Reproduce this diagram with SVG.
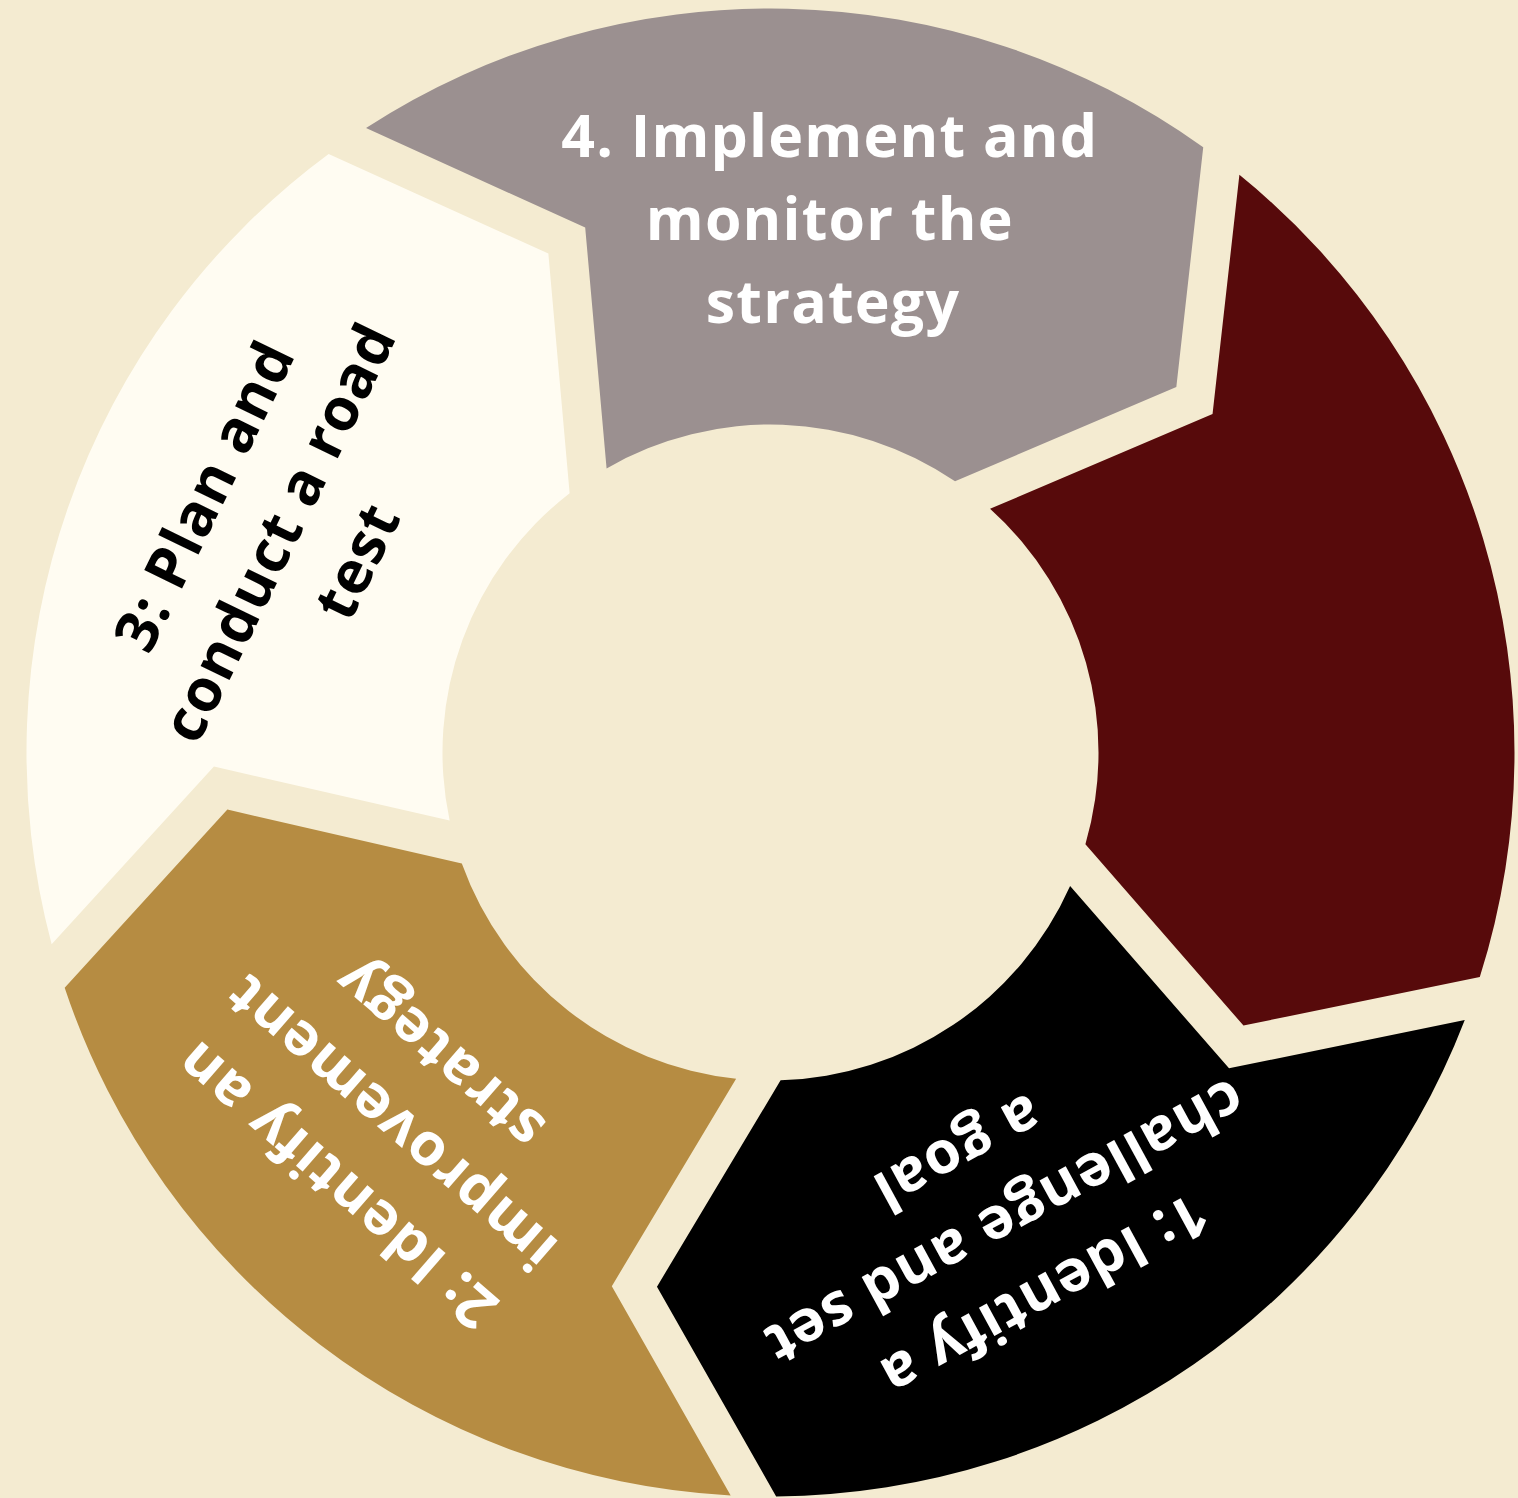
<svg xmlns="http://www.w3.org/2000/svg" xmlns:xlink="http://www.w3.org/1999/xlink" width="1518" height="1498" viewBox="0 0 1518 1498">
  <style>
    .bg { fill: #F4EBD1; }
    .s-grey { fill: #9B9090; }
    .s-red { fill: #570A0B; }
    .s-black { fill: #000000; }
    .s-gold { fill: #B68C42; }
    .s-white { fill: #FFFCF2; }
    .label { font-family: "Open Sans", "Liberation Sans", sans-serif; font-weight: 700; font-size: 59px; letter-spacing: 1.2px; text-anchor: middle; }
    .light { fill: #FFFFFF; }
    .dark { fill: #000000; }
  </style>
  <defs>
    <!-- one ring segment, pointing up, centred on the origin; notch on the left side, arrow tip on the right -->
    <path id="segment" d="M -418.54 -615.11 A 744 744 0 0 1 418.89 -614.87 L 397.44 -374.55 L 178.34 -275.28 A 328 328 0 0 0 -170.32 -280.32 L -197.17 -520.67 Z"/>
  </defs>

  <rect class="bg" x="0" y="0" width="1518" height="1498"/>

  <g id="step-4">
    <use xlink:href="#segment" href="#segment" class="s-grey" transform="translate(770.5 752.5) rotate(1.3)"/>
    <text class="label light">
      <tspan x="838" y="157">4. Implement and</tspan>
      <tspan x="838" y="240">monitor the</tspan>
      <tspan x="833" y="323">strategy</tspan>
    </text>
  </g>

  <g id="step-5">
    <use xlink:href="#segment" href="#segment" class="s-red" transform="translate(770.5 752.5) rotate(73.3)"/>
  </g>

  <g id="step-1">
    <use xlink:href="#segment" href="#segment" class="s-black" transform="translate(770.5 752.5) rotate(145.3)"/>
    <text class="label light" transform="translate(997.5 1226) rotate(151.5)">
      <tspan x="0" y="-63">1: Identify a</tspan>
      <tspan x="0" y="20">challenge and set</tspan>
      <tspan x="0" y="103">a goal</tspan>
    </text>
  </g>

  <g id="step-2">
    <use xlink:href="#segment" href="#segment" class="s-gold" transform="translate(770.5 752.5) rotate(217.3)"/>
    <text class="label light" transform="translate(385 1117) rotate(221)">
      <tspan x="0" y="-63">2: Identify an</tspan>
      <tspan x="0" y="20">improvement</tspan>
      <tspan x="0" y="103">strategy</tspan>
    </text>
  </g>

  <g id="step-3">
    <use xlink:href="#segment" href="#segment" class="s-white" transform="translate(770.5 752.5) rotate(289.3)"/>
    <text class="label dark" transform="translate(283 525) rotate(-64)">
      <tspan x="0" y="-63">3: Plan and</tspan>
      <tspan x="0" y="20">conduct a road</tspan>
      <tspan x="0" y="103">test</tspan>
    </text>
  </g>
</svg>
